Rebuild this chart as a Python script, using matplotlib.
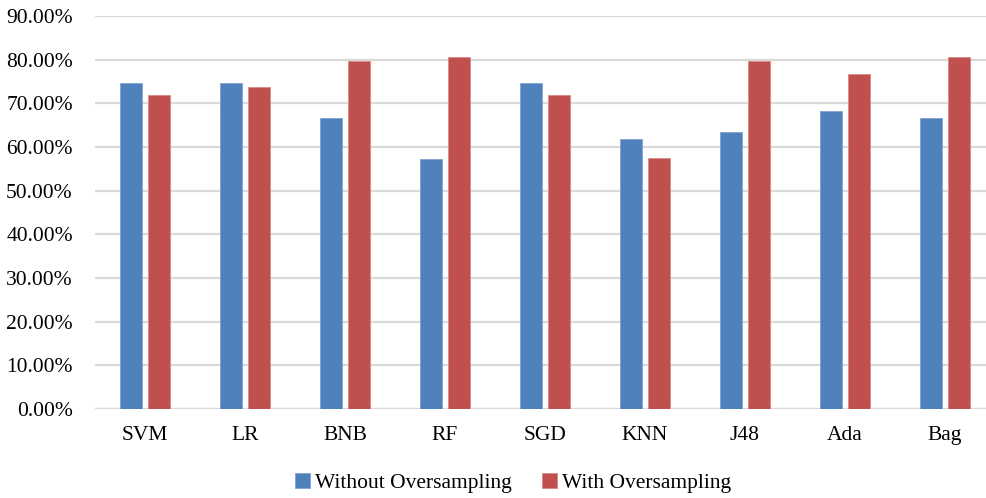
import matplotlib
matplotlib.use("Agg")
import matplotlib.pyplot as plt
import numpy as np
from matplotlib.ticker import FuncFormatter

categories = ["SVM", "LR", "BNB", "RF", "SGD", "KNN", "J48", "Ada", "Bag"]
without_os = [74.7, 74.7, 66.7, 57.2, 74.7, 61.9, 63.5, 68.3, 66.7]
with_os = [71.9, 73.8, 79.6, 80.6, 71.9, 57.4, 79.6, 76.7, 80.6]
yticks = [0, 10, 20, 30, 40, 50, 60, 70, 80, 90]

plt.rcParams['font.family'] = ['Liberation Serif', 'DejaVu Serif']

fig = plt.figure(figsize=(9.87, 4.98), dpi=100)
ax = fig.add_axes([95/987, 89/498, 900/987, 393/498])

x = np.arange(len(categories))
w = 0.22
off = 0.14
ax.bar(x - off, without_os, w, color="#4F81BD", edgecolor="#7fa3d0", linewidth=0.6,
       label="Without Oversampling", zorder=3)
ax.bar(x + off, with_os, w, color="#C0504D", edgecolor="#d88a88", linewidth=0.6,
       label="With Oversampling", zorder=3)

ax.set_xlim(-0.5, len(categories) - 0.5)
ax.set_ylim(0, 90)
ax.set_yticks(yticks)
ax.yaxis.set_major_formatter(FuncFormatter(lambda v, p: f"{v:.2f}%"))
ax.set_xticks(x)
ax.set_xticklabels(categories)
ax.tick_params(axis='both', length=0, labelsize=15.5, colors="#000000")
ax.tick_params(axis='x', pad=12)
ax.tick_params(axis='y', pad=16)
ax.grid(axis='y', color="#d9d9d9", linewidth=1.6, zorder=0)
for s in ax.spines.values():
    s.set_visible(False)
ax.axhline(0, color="#d9d9d9", linewidth=1.6, zorder=1)

leg = fig.legend(loc="center", bbox_to_anchor=(513/987, 1 - 483/498), ncol=2, frameon=False,
                 fontsize=15.5, handlelength=0.7, handleheight=0.7, handletextpad=0.25,
                 columnspacing=1.4)

fig.savefig("out.png", dpi=100)
